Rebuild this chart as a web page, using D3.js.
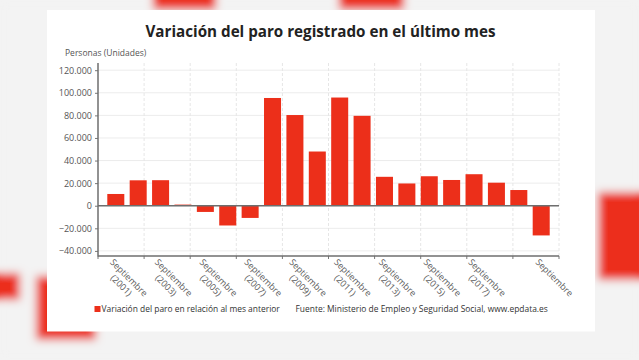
<!DOCTYPE html>
<html><head><meta charset="utf-8">
<script src="https://cdn.jsdelivr.net/npm/d3@7"></script>
<style>
html,body{margin:0;padding:0;background:#f3f3f3;}
svg{display:block;font-family:"Open Sans",sans-serif;}
</style></head><body>
<svg id="c" width="639" height="360"></svg>
<script>
// ---- data ----
const categories = ["Septiembre (2001)","Septiembre (2002)","Septiembre (2003)","Septiembre (2004)","Septiembre (2005)",
  "Septiembre (2006)","Septiembre (2007)","Septiembre (2008)","Septiembre (2009)","Septiembre (2010)",
  "Septiembre (2011)","Septiembre (2012)","Septiembre (2013)","Septiembre (2014)","Septiembre (2015)",
  "Septiembre (2016)","Septiembre (2017)","Septiembre (2018)","Septiembre (2019)","Septiembre"];
const values = [10400, 22500, 22600, 1000, -5500, -17500, -10800, 95400, 80300, 48000,
  95800, 79600, 25600, 19700, 26100, 22800, 27900, 20400, 13900, -26300];
const shownTicks = ["Septiembre (2001)","Septiembre (2003)","Septiembre (2005)","Septiembre (2007)","Septiembre (2009)",
  "Septiembre (2011)","Septiembre (2013)","Septiembre (2015)","Septiembre (2017)","Septiembre"];
const yTicks = [-40000,-20000,0,20000,40000,60000,80000,100000,120000];
const title = "Variación del paro registrado en el último mes";
const yTitle = "Personas (Unidades)";
const seriesName = "Variación del paro en relación al mes anterior";
const source = "Fuente: Ministerio de Empleo y Seguridad Social, www.epdata.es";

const svg = d3.select("#c");
const RED = "#ec2f1a";

// ---- background ----
const defs = svg.append("defs");
defs.append("filter").attr("id","blur").attr("x","-50%").attr("y","-50%").attr("width","200%").attr("height","200%")
  .append("feGaussianBlur").attr("stdDeviation",4);
const bg = svg.append("g").attr("filter","url(#blur)");
bg.append("rect").attr("x",0).attr("y",0).attr("width",639).attr("height",360).attr("fill","#f3f3f3");
[[153,-10,63,20],[339,-10,65,20],[598,192,50,88],[-10,273,30,27],[36,276,60,64]].forEach(d=>{
  bg.append("rect").attr("x",d[0]).attr("y",d[1]).attr("width",d[2]).attr("height",d[3]).attr("fill",RED);
});
svg.append("rect").attr("x",47).attr("y",10).attr("width",548).attr("height",321.5).attr("fill","#fff");

// ---- scales ----
const L = 98, R = 559, T = 63, B = 256;
const x = d3.scaleBand().domain(categories).range([L, R]).paddingInner(0.24).paddingOuter(0.415);
const y = d3.scaleLinear().domain([-40000, 120000]).range([250.9, 70.2]);

// grid
const g = svg.append("g");
g.selectAll("line.h").data(yTicks).join("line")
  .attr("x1",L).attr("x2",R).attr("y1",d=>y(d)).attr("y2",d=>y(d))
  .attr("stroke","#ececec").attr("stroke-width",1);
const vdiv = d3.scaleLinear().domain([0,10]).range([L,R]);
g.selectAll("line.v").data(d3.range(1,11)).join("line")
  .attr("x1",d=>vdiv(d)).attr("x2",d=>vdiv(d)).attr("y1",T).attr("y2",B)
  .attr("stroke","#e6e6e6").attr("stroke-width",1).attr("stroke-dasharray","3,2");
g.selectAll("line.xt").data(d3.range(0,11)).join("line")
  .attr("x1",d=>vdiv(d)).attr("x2",d=>vdiv(d)).attr("y1",B).attr("y2",B+3)
  .attr("stroke","#777").attr("stroke-width",1);

// bars
svg.append("g").selectAll("rect").data(values).join("rect")
  .attr("x",(d,i)=>x(categories[i])).attr("width",x.bandwidth())
  .attr("y",d=>Math.min(y(d),y(0))).attr("height",d=>Math.abs(y(d)-y(0)))
  .attr("fill",RED);

// zero line
svg.append("line").attr("x1",L).attr("x2",R).attr("y1",y(0)).attr("y2",y(0))
  .attr("stroke","#6e6e6e").attr("stroke-width",1.5);

// y axis
const ya = svg.append("g").attr("transform",`translate(${L},0)`)
  .call(d3.axisLeft(y).tickValues(yTicks).tickSize(3).tickPadding(3)
    .tickFormat(d=>d3.format(",")(d).replace(/,/g,".")));
ya.select(".domain").remove();
ya.selectAll(".tick line").attr("stroke","#777");
ya.selectAll("text").attr("fill","#555").attr("font-size","9px").attr("font-family","Open Sans");
svg.append("line").attr("x1",L).attr("x2",L).attr("y1",T).attr("y2",B+0.5).attr("stroke","#6e6e6e").attr("stroke-width",1.5);
svg.append("line").attr("x1",L).attr("x2",R).attr("y1",B).attr("y2",B).attr("stroke","#6e6e6e").attr("stroke-width",1.5);

// x labels
const xl = svg.append("g");
shownTicks.forEach(c=>{
  const m = c.match(/^(\S+)\s*(.*)$/);
  const gg = xl.append("g").attr("transform",`translate(${x(c)+x.bandwidth()/2-1.5},258) rotate(45)`);
  const t1 = gg.append("text").text(m[1]).attr("font-size","9px").attr("fill","#5a5a5a").attr("dy","0.75em");
  const w = t1.node().getComputedTextLength();
  t1.attr("text-anchor","middle").attr("x",w/2);
  if (m[2]) gg.append("text").text(m[2]).attr("font-size","9px").attr("fill","#5a5a5a")
      .attr("text-anchor","middle").attr("x",w/2).attr("dy","1.95em");
});

// texts
function fit(t, target){
  const fs = parseFloat(t.attr("font-size"));
  const w = t.node().getComputedTextLength();
  t.attr("font-size", (fs*target/w).toFixed(2)+"px");
}
const tt = svg.append("text").text(title).attr("x",145.5).attr("y",37.3)
  .attr("font-size","16px").attr("font-weight",700).attr("fill","#222");
fit(tt, 350);
svg.append("text").text(yTitle).attr("x",65).attr("y",55.5).attr("font-size","8.5px").attr("fill","#555");

svg.append("rect").attr("x",94.5).attr("y",306).attr("width",6).attr("height",6).attr("fill",RED);
const lt = svg.append("text").text(seriesName).attr("x",101.5).attr("y",312.3).attr("font-size","9px").attr("fill","#333");
fit(lt, 178.5);
const st = svg.append("text").text(source).attr("x",295.5).attr("y",312.3).attr("font-size","9px").attr("fill","#333");
fit(st, 252.5);
</script></body></html>
